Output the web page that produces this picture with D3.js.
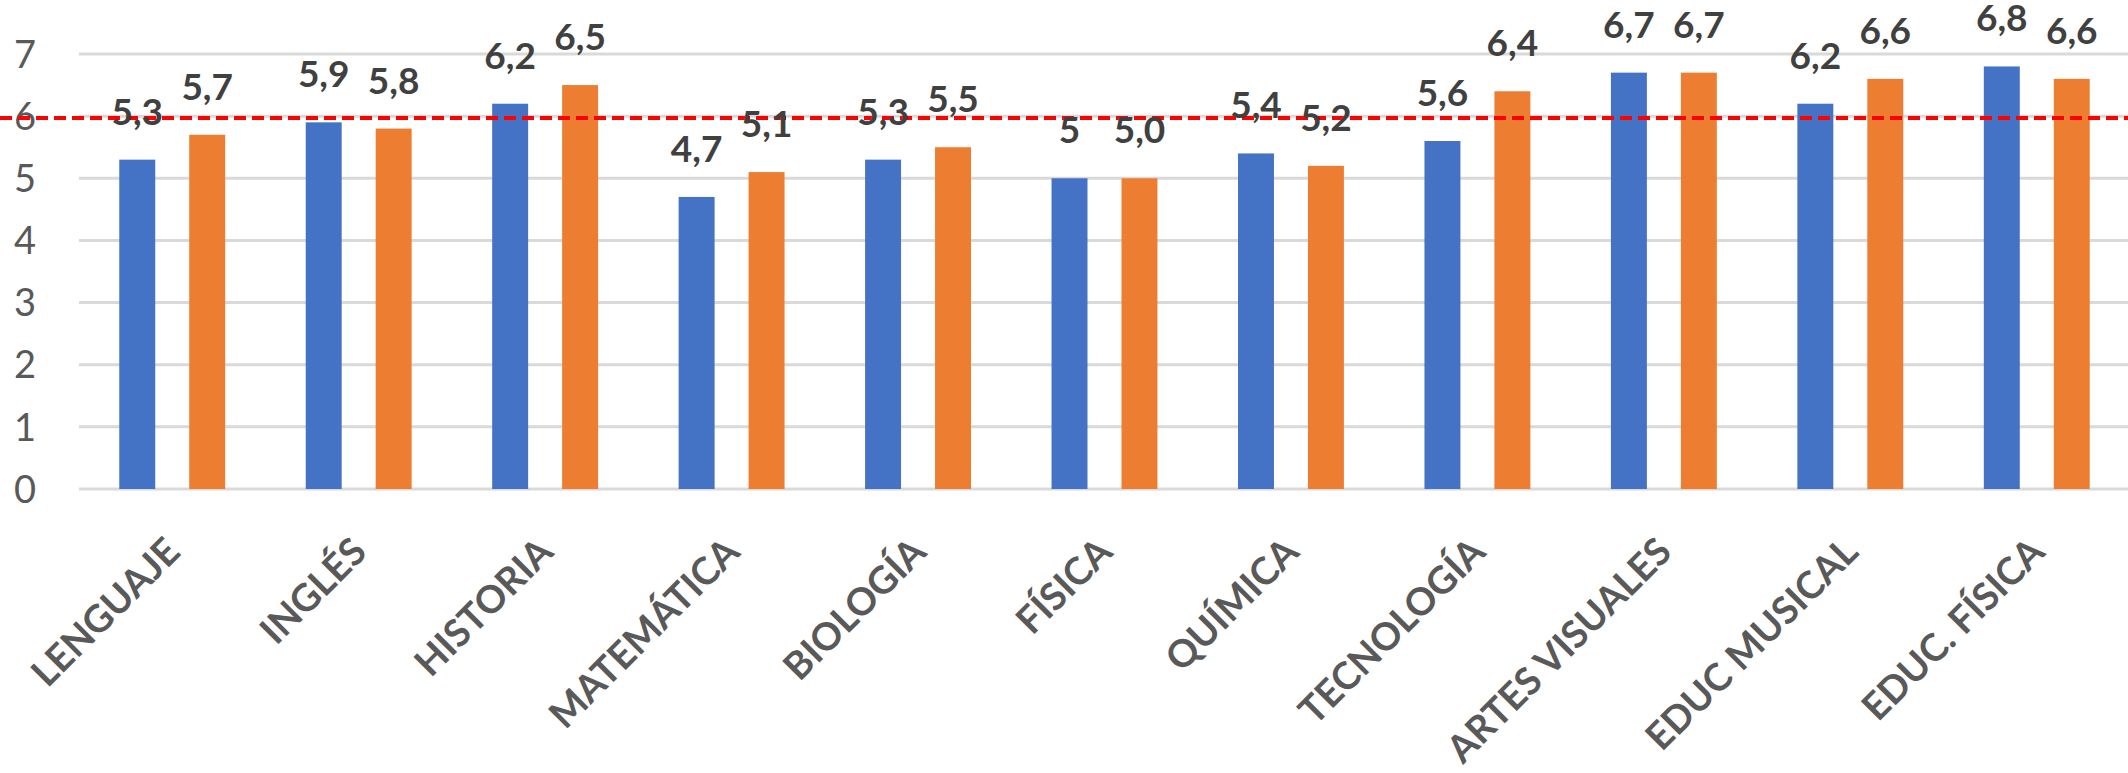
<!DOCTYPE html>
<html>
<head>
<meta charset="utf-8">
<script src="https://cdn.jsdelivr.net/npm/d3@7"></script>
<style>
  html, body { margin: 0; padding: 0; background: #ffffff; }
  svg { display: block; }
</style>
</head>
<body>
<svg id="chart" width="2128" height="773"></svg>
<script>
// ---- data ----
const categories = ["LENGUAJE", "INGLÉS", "HISTORIA", "MATEMÁTICA", "BIOLOGÍA", "FÍSICA", "QUÍMICA", "TECNOLOGÍA", "ARTES VISUALES", "EDUC MUSICAL", "EDUC. FÍSICA"];
const seriesA = [5.3, 5.9, 6.2, 4.7, 5.3, 5.0, 5.4, 5.6, 6.7, 6.2, 6.8];
const seriesB = [5.7, 5.8, 6.5, 5.1, 5.5, 5.0, 5.2, 6.4, 6.7, 6.6, 6.6];
const labelsA = ["5,3", "5,9", "6,2", "4,7", "5,3", "5", "5,4", "5,6", "6,7", "6,2", "6,8"];
const labelsB = ["5,7", "5,8", "6,5", "5,1", "5,5", "5,0", "5,2", "6,4", "6,7", "6,6", "6,6"];
const yTicks = [0, 1, 2, 3, 4, 5, 6, 7];
const refValue = 5.97;

// ---- layout ----
const W = 2128, H = 773;
const plot = { left: 79, right: 2130, top: 54, bottom: 489 };
const colors = ["#4472C4", "#ED7D31"];

const svg = d3.select("#chart");

const x0 = d3.scaleBand()
  .domain(categories)
  .range([plot.left, plot.right])
  .paddingInner(0.432)
  .paddingOuter(0.216);

const x1 = d3.scaleBand()
  .domain([0, 1])
  .range([0, x0.bandwidth()])
  .paddingInner(0.486)
  .paddingOuter(0);

const y = d3.scaleLinear().domain([0, 7]).range([plot.bottom, plot.top]);

// gridlines
svg.append("g")
  .selectAll("line")
  .data(yTicks)
  .join("line")
  .attr("x1", plot.left)
  .attr("x2", W)
  .attr("y1", d => y(d))
  .attr("y2", d => y(d))
  .attr("stroke", "#d9d9d9")
  .attr("stroke-width", 3);

// y axis labels
svg.append("g")
  .selectAll("text")
  .data(yTicks)
  .join("text")
  .attr("x", 36)
  .attr("y", d => y(d))
  .attr("dy", "0.36em")
  .attr("text-anchor", "end")
  .attr("font-family", "Lato, 'Open Sans', sans-serif")
  .attr("font-size", 38)
  .attr("fill", "#595959")
  .text(d => d);

// bars
const series = [seriesA, seriesB];
const labels = [labelsA, labelsB];
const rows = [];
categories.forEach((c, i) => {
  [0, 1].forEach(s => rows.push({ cat: c, s, v: series[s][i], label: labels[s][i] }));
});

svg.append("g")
  .selectAll("rect")
  .data(rows)
  .join("rect")
  .attr("x", d => x0(d.cat) + x1(d.s))
  .attr("width", x1.bandwidth())
  .attr("y", d => y(d.v))
  .attr("height", d => y(0) - y(d.v))
  .attr("fill", d => colors[d.s]);

// red dashed reference line
svg.append("line")
  .attr("x1", 0)
  .attr("x2", W)
  .attr("y1", y(refValue))
  .attr("y2", y(refValue))
  .attr("stroke", "#FF0000")
  .attr("stroke-width", 4)
  .attr("stroke-dasharray", "12,6");

// value labels
svg.append("g")
  .selectAll("text")
  .data(rows)
  .join("text")
  .attr("x", d => x0(d.cat) + x1(d.s) + x1.bandwidth() / 2)
  .attr("y", d => y(d.v) - 35)
  .attr("text-anchor", "middle")
  .attr("font-family", "Lato, 'Open Sans', sans-serif")
  .attr("font-weight", "bold")
  .attr("font-size", 37)
  .attr("fill", "#404040")
  .text(d => d.label);

// x axis labels (rotated)
svg.append("g")
  .selectAll("text")
  .data(categories)
  .join("text")
  .attr("transform", d => `translate(${x0(d) + x0.bandwidth() / 2 + 10},${554}) rotate(-45)`)
  .attr("text-anchor", "end")
  .attr("font-family", "Lato, 'Open Sans', sans-serif")
  .attr("font-weight", "bold")
  .attr("font-size", 38)
  .attr("fill", "#595959")
  .text(d => d);
</script>
</body>
</html>
